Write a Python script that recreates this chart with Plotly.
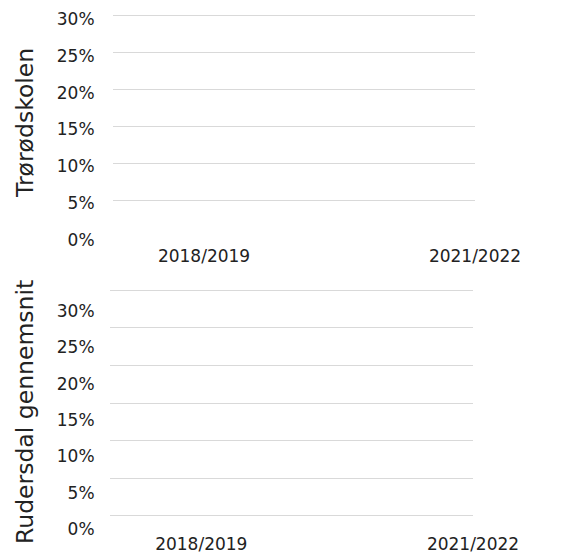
import plotly.graph_objects as go

# ---- data ----
categories = ["2018/2019", "2021/2022"]
school_values = [None, None]      # Trørødskolen (no visible values)
average_values = [None, None]     # Rudersdal gennemsnit (no visible values)
ytick_vals = [0, 0.05, 0.10, 0.15, 0.20, 0.25, 0.30]
ytick_text = ["0%", "5%", "10%", "15%", "20%", "25%", "30%"]
panel_titles = ["Trørødskolen", "Rudersdal gennemsnit"]

W, H = 564, 555
OFF = 8  # page offset of the figure (body margin)
FONT = "DejaVu Sans"
TICK_SIZE = 17
TITLE_SIZE = 23.5
GRID = "#d9d9d9"


def py(p):
    return 1 - (p - OFF) / H


def px(p):
    return (p - OFF) / W


fig = go.Figure()

# top panel: gridlines (x/y) and labels (x4/y4)
fig.add_trace(go.Bar(x=categories, y=school_values, xaxis="x", yaxis="y",
                     showlegend=False))
fig.add_trace(go.Bar(x=categories, y=school_values, xaxis="x4", yaxis="y4",
                     showlegend=False))
# bottom panel: gridlines (x2/y2) and labels (x3/y3)
fig.add_trace(go.Bar(x=categories, y=average_values, xaxis="x2", yaxis="y2",
                     showlegend=False))
fig.add_trace(go.Bar(x=categories, y=average_values, xaxis="x3", yaxis="y3",
                     showlegend=False))

xrange = [-0.336, 1.0]
common_x = dict(type="category", showgrid=False, zeroline=False,
                showline=False, ticks="outside", ticklen=4,
                tickcolor="rgba(0,0,0,0)", automargin=False,
                fixedrange=True, ticklabeloverflow="allow")
common_y = dict(zeroline=False, showline=False, automargin=False,
                tickvals=ytick_vals, fixedrange=True,
                ticklabeloverflow="allow")

layout = dict(
    width=W, height=H,
    margin=dict(l=0, r=0, t=0, b=0),
    paper_bgcolor="white", plot_bgcolor="rgba(0,0,0,0)",
    font=dict(family=FONT, size=TICK_SIZE, color="#222222"),
    showlegend=False,
    # top panel: gridline axis + category labels
    xaxis=dict(common_x, domain=[px(113), px(475)], range=xrange, anchor="y"),
    yaxis=dict(common_y, domain=[py(237), py(14.5)], range=[0, 0.302],
               anchor="x", showticklabels=False,
               showgrid=True, gridcolor=GRID, gridwidth=1),
    # top panel: percentage labels
    xaxis4=dict(common_x, domain=[px(113), px(475)], range=xrange,
                anchor="y4", showticklabels=False),
    yaxis4=dict(common_y, domain=[py(240), py(19)], range=[0, 0.3],
                anchor="x4", ticktext=ytick_text, showgrid=False,
                ticks="outside", ticklen=14, tickcolor="rgba(0,0,0,0)"),
    # bottom panel: gridline axis
    xaxis2=dict(common_x, domain=[px(110), px(473)], range=xrange,
                anchor="y2", showticklabels=False),
    yaxis2=dict(common_y, domain=[py(517.5), py(288.5)],
                range=[-0.002, 0.302], anchor="x2", showticklabels=False,
                showgrid=True, gridcolor=GRID, gridwidth=1),
    # bottom panel: label axes (labels sit lower than the gridlines)
    xaxis3=dict(common_x, domain=[px(110), px(473)], range=xrange,
                anchor="y3", ticklen=0),
    yaxis3=dict(common_y, domain=[py(529), py(311)], range=[0, 0.3],
                anchor="x3", ticktext=ytick_text, showgrid=False,
                ticks="outside", ticklen=11, tickcolor="rgba(0,0,0,0)"),
)
fig.update_layout(**layout)

fig.add_annotation(text=panel_titles[0], textangle=-90, xref="paper",
                   yref="paper", x=px(25), y=py(123), xanchor="center",
                   yanchor="middle", showarrow=False,
                   font=dict(family=FONT, size=TITLE_SIZE, color="#222222"))
fig.add_annotation(text=panel_titles[1], textangle=-90, xref="paper",
                   yref="paper", x=px(25), y=py(412), xanchor="center",
                   yanchor="middle", showarrow=False,
                   font=dict(family=FONT, size=TITLE_SIZE, color="#222222"))

fig.write_html("out.html", config={"displayModeBar": False})
